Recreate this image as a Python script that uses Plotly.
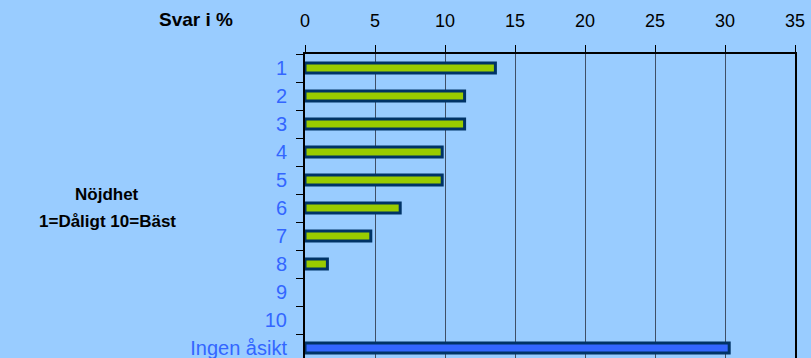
import plotly.graph_objects as go

categories = ["1", "2", "3", "4", "5", "6", "7", "8", "9", "10", "Ingen åsikt"]
values = [13.6, 11.4, 11.4, 9.8, 9.8, 6.8, 4.7, 1.6, 0, 0, 30.3]
bar_colors = ["#99CC00"] * 10 + ["#3366FF"]
x_ticks = [0, 5, 10, 15, 20, 25, 30, 35]

BG = "#99CCFF"
FONT = "Liberation Sans, Arial, sans-serif"

outline_widths = [3 if v > 0 else 0 for v in values]

fig = go.Figure(
    go.Bar(
        x=values,
        y=categories,
        orientation="h",
        marker=dict(color=bar_colors, line=dict(color="#003366", width=outline_widths)),
        hoverinfo="x+y",
    )
)

fig.update_layout(
    width=811,
    height=358,
    margin=dict(l=305, r=16, t=54, b=0),
    paper_bgcolor=BG,
    plot_bgcolor=BG,
    bargap=0.64,
    showlegend=False,
    font=dict(family=FONT),
    xaxis=dict(
        side="top",
        range=[0, 35],
        tickvals=x_ticks,
        ticktext=[str(v) for v in x_ticks],
        ticks="outside",
        ticklen=7,
        tickwidth=1,
        tickcolor="#000000",
        ticklabelstandoff=11,
        tickfont=dict(size=18, color="#000000", family=FONT),
        showline=True,
        linecolor="#000000",
        linewidth=2,
        showgrid=True,
        gridcolor="#3F4F66",
        gridwidth=1,
        zeroline=False,
        fixedrange=True,
    ),
    yaxis=dict(
        type="category",
        categoryorder="array",
        categoryarray=categories,
        range=[10.357, -0.5],
        tickson="boundaries",
        ticks="outside",
        ticklen=7,
        tickwidth=1,
        tickcolor="#000000",
        ticklabelstandoff=12,
        tickfont=dict(size=20, color="#3366FF", family=FONT),
        showline=True,
        mirror=True,
        linecolor="#000000",
        linewidth=2,
        showgrid=False,
        zeroline=False,
        fixedrange=True,
    ),
    annotations=[
        dict(
            text="<b>Svar i %</b>",
            xref="paper", yref="paper",
            x=(196 - 305) / 490, y=(358 - 20) / 304,
            xanchor="center", yanchor="middle",
            showarrow=False,
            font=dict(size=19, color="#000000", family=FONT),
        ),
        dict(
            text="<b>Nöjdhet</b>",
            xref="paper", yref="paper",
            x=(107 - 305) / 490, y=(358 - 194) / 304,
            xanchor="center", yanchor="middle",
            showarrow=False,
            font=dict(size=17, color="#000000", family=FONT),
        ),
        dict(
            text="<b>1=Dåligt 10=Bäst</b>",
            xref="paper", yref="paper",
            x=(107 - 305) / 490, y=(358 - 221) / 304,
            xanchor="center", yanchor="middle",
            showarrow=False,
            font=dict(size=17, color="#000000", family=FONT),
        ),
    ],
)

fig.write_html(
    "out.html",
    config={"displayModeBar": False},
    post_script="document.body.style.margin='0';document.body.style.background='#99CCFF';",
)
